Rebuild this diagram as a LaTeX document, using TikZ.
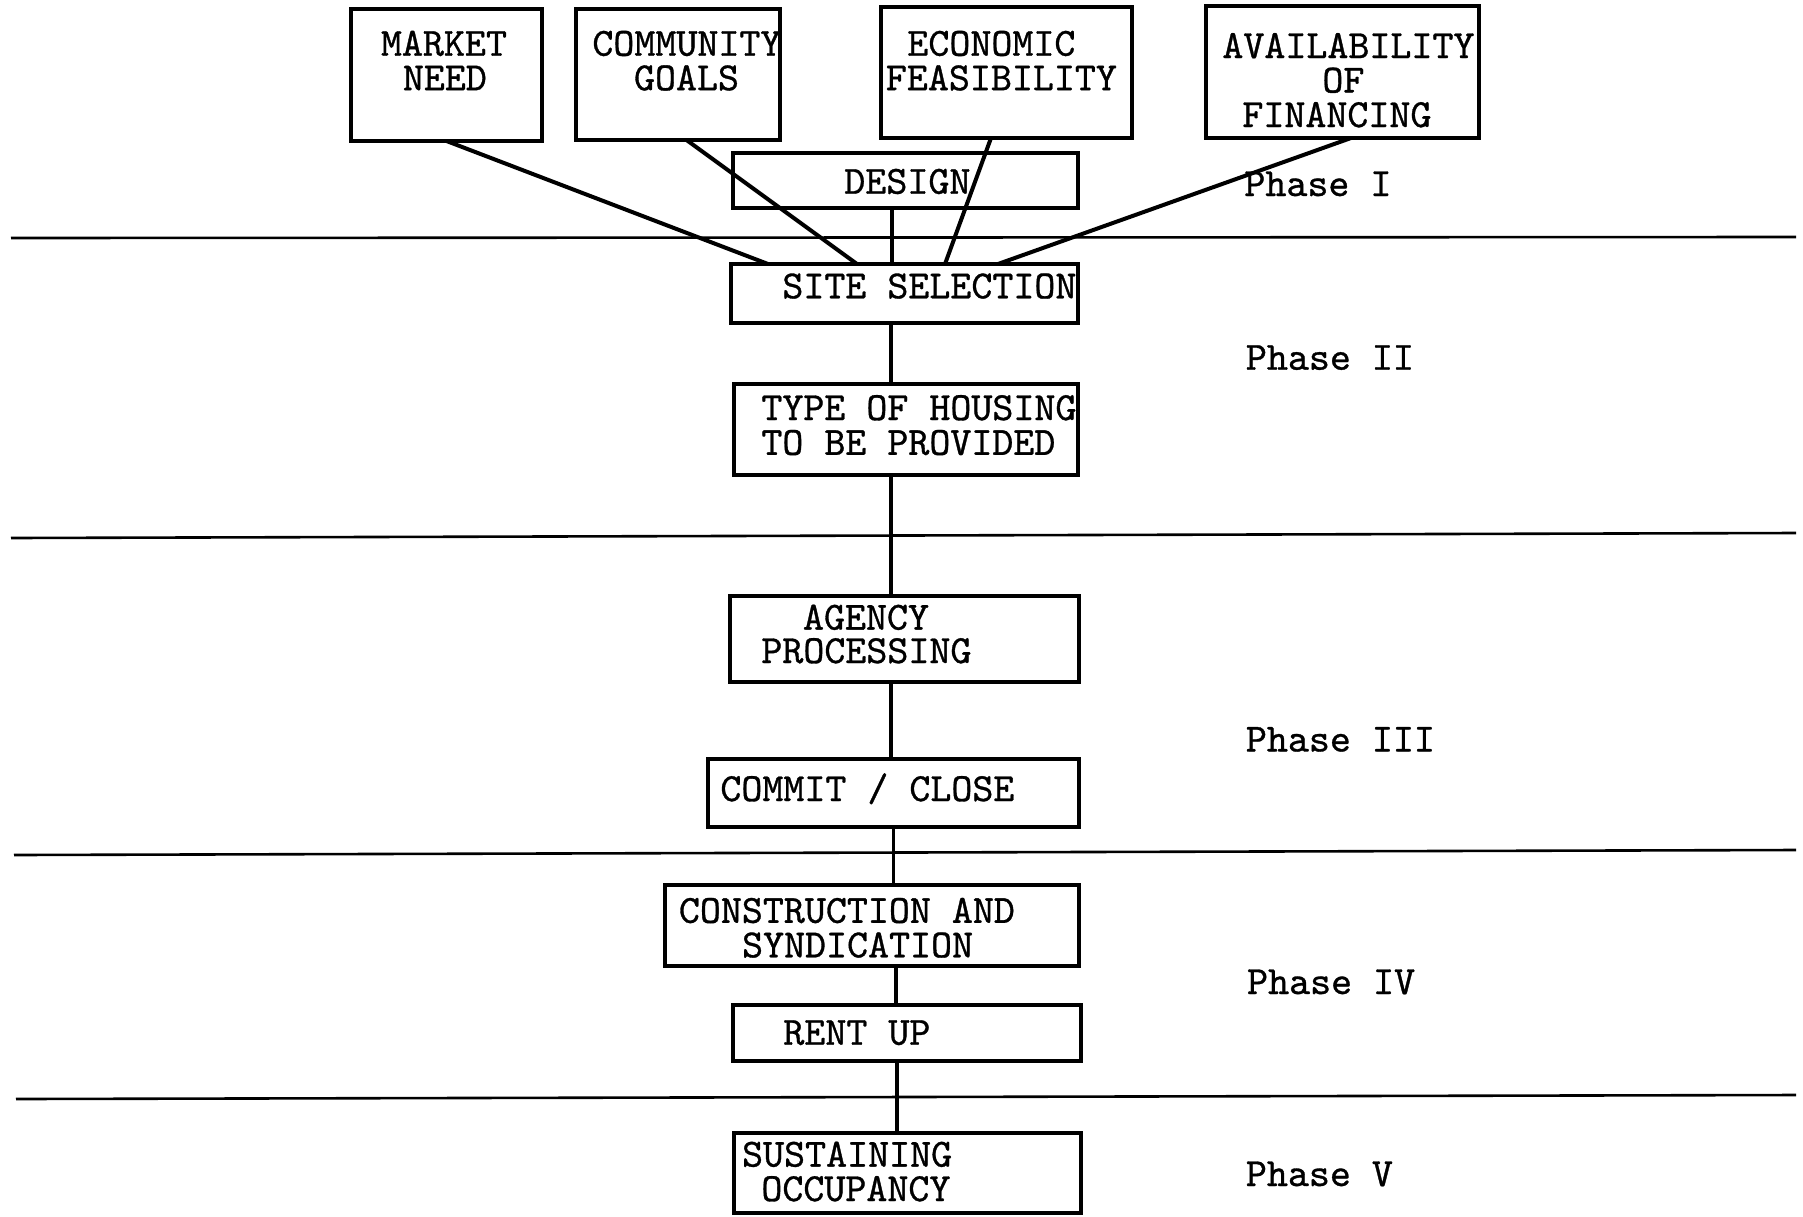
\documentclass[tikz,border=0pt]{standalone}
\usepackage{fontspec}
\newfontfamily\tw{lmmono10-regular}[Extension=.otf, FakeBold=0.8]
\usetikzlibrary{fit,calc}
\begin{document}
\begin{tikzpicture}[x=0.5pt,y=-0.5pt,
  box/.style={draw, line width=1.6pt, inner sep=0pt, outer sep=0pt},
  txt/.style={font=\tw\fontsize{20pt}{20pt}\selectfont, inner sep=0pt, anchor=base west, yshift=-1pt, text height=12.4pt, text depth=0pt},
  feed/.style={line width=2pt},
  trunk/.style={line width=1.6pt},
  phaseline/.style={line width=1.3pt}]
\useasboundingbox (0,0) rectangle (1803,1216);
% boxes
\node[box, fit={(351,9) (542,141)}] (market) {};
\node[box, fit={(576,9) (780,140)}] (comm) {};
\node[box, fit={(881,7) (1132,138)}] (econ) {};
\node[box, fit={(1206,6) (1479,138)}] (avail) {};
\node[box, fit={(733,153) (1078,208)}] (design) {};
\node[box, fit={(731,264) (1078,323)}] (site) {};
\node[box, fit={(734,384) (1078,475)}] (type) {};
\node[box, fit={(730,596) (1079,682)}] (agency) {};
\node[box, fit={(708,759) (1079,827)}] (commit) {};
\node[box, fit={(665,885) (1079,966)}] (constr) {};
\node[box, fit={(733,1005) (1081,1061)}] (rent) {};
\node[box, fit={(734,1133) (1081,1213)}] (sust) {};
% texts
\node[txt] (t1a) at (380.6,53.7) {MARKET};
\node[txt] (t1b) at (402.5,88.2) {NEED};
\node[txt] (t2a) at (592,53.7) {COMMUNITY};
\node[txt] (t2b) at (633.6,88.2) {GOALS};
\node[txt] (t3a) at (907,53.7) {ECONOMIC};
\node[txt] (t3b) at (885.5,88.2) {FEASIBILITY};
\node[txt] (t4a) at (1222,56) {AVAILABILITY};
\node[txt] (t4b) at (1322,90.5) {OF};
\node[txt] (t4c) at (1242,125) {FINANCING};
\node[txt] (t5) at (844,191.7) {DESIGN};
\node[txt] (t6) at (782,296.3) {SITE SELECTION};
\node[txt] (t7a) at (761,418) {TYPE OF HOUSING};
\node[txt] (t7b) at (761,452.8) {TO BE PROVIDED};
\node[txt] (t8a) at (802.6,627.6) {AGENCY};
\node[txt] (t8b) at (761,661) {PROCESSING};
\node[txt] (t9) at (720,799) {COMMIT / CLOSE};
\node[txt] (t10a) at (678.5,920.8) {CONSTRUCTION AND};
\node[txt] (t10b) at (741.7,955.3) {SYNDICATION};
\node[txt] (t11) at (783,1042.7) {RENT UP};
\node[txt] (t12a) at (741.7,1164.6) {SUSTAINING};
\node[txt] (t12b) at (761,1199) {OCCUPANCY};
% phase labels
\node[txt] (p1) at (1244,194) {Phase I};
\node[txt] (p2) at (1245.5,367.7) {Phase II};
\node[txt] (p3) at (1245.5,749.5) {Phase III};
\node[txt] (p4) at (1246.7,992) {Phase IV};
\node[txt] (p5) at (1245.5,1184) {Phase V};
% phase separators
\coordinate (l1a) at (11,238); \coordinate (l1b) at (1796,237);
\coordinate (l2a) at (11,538); \coordinate (l2b) at (1796,533);
\coordinate (l3a) at (14,855); \coordinate (l3b) at (1796,850);
\coordinate (l4a) at (16,1099); \coordinate (l4b) at (1796,1095);
\draw[phaseline] (l1a) -- (l1b);
\draw[phaseline] (l2a) -- (l2b);
\draw[phaseline] (l3a) -- (l3b);
\draw[phaseline] (l4a) -- (l4b);
% feeders into site selection
\draw[feed] (market.south) -- ($(site.north west)+(37,0)$);
\draw[feed] ($(comm.south west)+(110.5,0)$) -- ($(site.north west)+(126,0)$);
\draw[feed] ($(econ.south west)+(110,0)$) -- ($(site.north west)+(214,0)$);
\draw[feed] ($(avail.south west)+(145,0)$) -- ($(site.north west)+(267,0)$);
% trunk
\draw[trunk] ($(design.south west)+(159,0)$) -- ($(site.north west)+(161,0)$);
\draw[trunk] ($(site.south west)+(160,0)$) -- ($(type.north west)+(157,0)$);
\draw[trunk] ($(type.south west)+(157,0)$) -- ($(agency.north west)+(161,0)$);
\draw[trunk] ($(agency.south west)+(161,0)$) -- ($(commit.north west)+(183,0)$);
\draw[trunk] ($(commit.south west)+(185.5,0)$) -- ($(constr.north west)+(228.5,0)$);
\draw[trunk] ($(constr.south west)+(231,0)$) -- ($(rent.north west)+(163,0)$);
\draw[trunk] ($(rent.south west)+(164,0)$) -- ($(sust.north west)+(163,0)$);
\end{tikzpicture}
\end{document}
